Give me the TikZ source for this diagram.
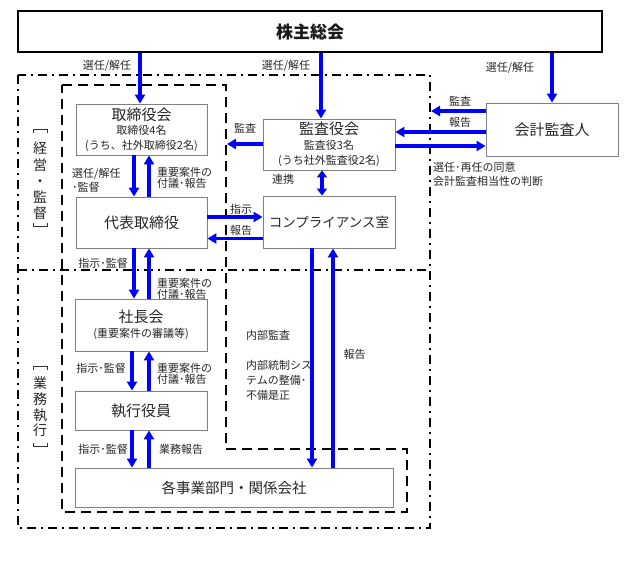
\documentclass[tikz,border=0pt]{standalone}
\usepackage{fontspec}
\setmainfont{Noto Sans CJK JP}
\usetikzlibrary{arrows.meta}
\begin{document}
\begin{tikzpicture}[x=1pt,y=-1pt,
  box/.style={draw=black!50, line width=0.9pt, fill=white, inner sep=0pt, text=black!85, align=center, font=\fontsize{11}{15}\selectfont},
  arr/.style={draw=blue, line width=3.2pt, -{Triangle[length=9pt,width=10pt]}},
  darr/.style={draw=blue, line width=3.2pt, {Triangle[length=7pt,width=10pt]}-{Triangle[length=7pt,width=10pt]}},
  lbl/.style={font=\fontsize{11}{11}\selectfont, inner sep=0pt, align=left, text=black!85},
  ttl/.style={font=\fontsize{15}{15}\selectfont},
  dashdot/.style={line width=2pt, dash pattern=on 9pt off 5pt on 2pt off 5pt},
  dashbox/.style={line width=2.5pt, dash pattern=on 10pt off 6pt},
  vt/.style={inner sep=0pt, text=black!85, align=center},
  brk/.style={line width=0.8pt, draw=black!80}
]
\useasboundingbox (0,0) rectangle (639,570);

% regions
\draw[dashdot] (18,75) rectangle (430,528);
\draw[dashdot] (18,270) -- (430,270);
\draw[dashbox] (62,85) -- (226,85) -- (226,449) -- (407,449) -- (407,512) -- (62,512) -- cycle;

% boxes
\node[draw=black, line width=2.2pt, fill=white, minimum width=584pt, minimum height=41pt, inner sep=0pt,
      font=\fontsize{17}{17}\selectfont\bfseries, text=black!90] (kabu) at (310,31.5) {株主総会};
\node[box, minimum width=131pt, minimum height=51pt] (tori) at (141.5,129.5)
  {{\fontsize{15}{15}\selectfont 取締役会}\\[-1pt]取締役4名\\(うち、社外取締役2名)};
\node[box, minimum width=131pt, minimum height=51pt, ttl] (daihyo) at (141.5,222.5) {代表取締役};
\node[box, minimum width=132pt, minimum height=51pt] (kansa) at (329,144.5)
  {{\fontsize{15}{15}\selectfont 監査役会}\\[0pt]監査役3名\\(うち社外監査役2名)};
\node[box, minimum width=132pt, minimum height=52pt, font=\fontsize{13.5}{15}\selectfont] (comp) at (329,222) {コンプライアンス室};
\node[box, minimum width=132pt, minimum height=53pt, ttl] (kaikei) at (552,129.5) {会計監査人};
\node[box, minimum width=132pt, minimum height=52pt] (shacho) at (141,325)
  {{\fontsize{15}{15}\selectfont 社長会}\\[0pt](重要案件の審議等)};
\node[box, minimum width=132pt, minimum height=39pt, ttl] (shikko) at (141,410.5) {執行役員};
\node[box, minimum width=318pt, minimum height=39pt, font=\fontsize{14.5}{15}\selectfont] (jigyo) at (234,487.5) {各事業部門・関係会社};

% side labels
\node[vt, font=\fontsize{14}{16.25}\selectfont] (side1) at (40,181) {経\\営\\・\\監\\督};
\node[vt, font=\fontsize{14}{15.7}\selectfont] (side2) at (40,407) {業\\務\\執\\行};
\draw[brk] (33,133) -- (33,129.5) -- (47,129.5) -- (47,133);
\draw[brk] (33,223) -- (33,226.5) -- (47,226.5) -- (47,223);
\draw[brk] (33,370) -- (33,366.5) -- (47,366.5) -- (47,370);
\draw[brk] (33,443) -- (33,446.5) -- (47,446.5) -- (47,443);

% x positions and border points
\coordinate (xa) at (140,0);
\coordinate (xb) at (321,0);
\coordinate (xc) at (552,0);
\coordinate (xd) at (134,0);
\coordinate (xe) at (149,0);
\coordinate (xf) at (132,0);
\coordinate (xg) at (312,0);
\coordinate (xh) at (333,0);
\coordinate (xi) at (322,0);
\coordinate (ya) at (0,111);
\coordinate (yb) at (0,132);
\coordinate (yc) at (0,146);
\coordinate (yd) at (0,144);
\coordinate (ye) at (0,217);
\coordinate (yf) at (0,238.5);
\coordinate (bA) at (431,111);
\coordinate (bB) at (227,144);

% arrows
\draw[arr] (kabu.south -| xa) -- (tori.north -| xa);
\draw[arr] (kabu.south -| xb) -- (kansa.north -| xb);
\draw[arr] (kabu.south -| xc) -- (kaikei.north -| xc);
\draw[arr] (kaikei.west |- ya) -- (bA);
\draw[arr] (kaikei.west |- yb) -- (kansa.east |- yb);
\draw[arr] (kansa.east |- yc) -- (kaikei.west |- yc);
\draw[arr] (kansa.west |- yd) -- (bB);
\draw[darr] (kansa.south -| xi) -- (comp.north -| xi);
\draw[arr] (tori.south -| xd) -- (daihyo.north -| xd);
\draw[arr] (daihyo.north -| xe) -- (tori.south -| xe);
\draw[arr] (daihyo.east |- ye) -- (comp.west |- ye);
\draw[arr] (comp.west |- yf) -- (daihyo.east |- yf);
\draw[arr] (daihyo.south -| xd) -- (shacho.north -| xd);
\draw[arr] (shacho.north -| xe) -- (daihyo.south -| xe);
\draw[arr] (shacho.south -| xf) -- (shikko.north -| xf);
\draw[arr] (shikko.north -| xe) -- (shacho.south -| xe);
\draw[arr] (shikko.south -| xf) -- (jigyo.north -| xf);
\draw[arr] (jigyo.north -| xe) -- (shikko.south -| xe);
\draw[arr] (comp.south -| xg) -- (jigyo.north -| xg);
\draw[arr] (jigyo.north -| xh) -- (comp.south -| xh);

% labels
\node[lbl] (l1) at (107,66) {選任/解任};
\node[lbl] (l2) at (286,66) {選任/解任};
\node[lbl] (l3) at (510,68) {選任/解任};
\node[lbl] (l4) at (460,101) {監査};
\node[lbl] (l5) at (460,122) {報告};
\node[lbl, anchor=west, font=\fontsize{11}{14}\selectfont] (l6) at (433,174) {選任･再任の同意\\会計監査相当性の判断};
\node[lbl] (l7) at (245,128) {監査};
\node[lbl] (l8) at (283,179) {連携};
\node[lbl, anchor=west, font=\fontsize{11}{13.7}\selectfont] (l9) at (72,180) {選任/解任\\･監督};
\node[lbl, anchor=west, font=\fontsize{11}{10.8}\selectfont] (l10) at (157,178) {重要案件の\\付議･報告};
\node[lbl] (l11) at (241,209) {指示};
\node[lbl] (l12) at (241,230) {報告};
\node[lbl] (l13) at (103,263) {指示･監督};
\node[lbl, anchor=west, font=\fontsize{11}{10.8}\selectfont] (l14) at (157,289) {重要案件の\\付議･報告};
\node[lbl] (l15) at (101,368) {指示･監督};
\node[lbl, anchor=west, font=\fontsize{11}{10.8}\selectfont] (l16) at (157,373.5) {重要案件の\\付議･報告};
\node[lbl] (l17) at (103,449) {指示･監督};
\node[lbl] (l18) at (181,449) {業務報告};
\node[lbl, anchor=west] (l19) at (246,335) {内部監査};
\node[lbl, anchor=west, font=\fontsize{11}{14.7}\selectfont] (l20) at (246,380.5) {内部統制シス\\テムの整備･\\不備是正};
\node[lbl] (l21) at (354.5,354) {報告};
\end{tikzpicture}
\end{document}
